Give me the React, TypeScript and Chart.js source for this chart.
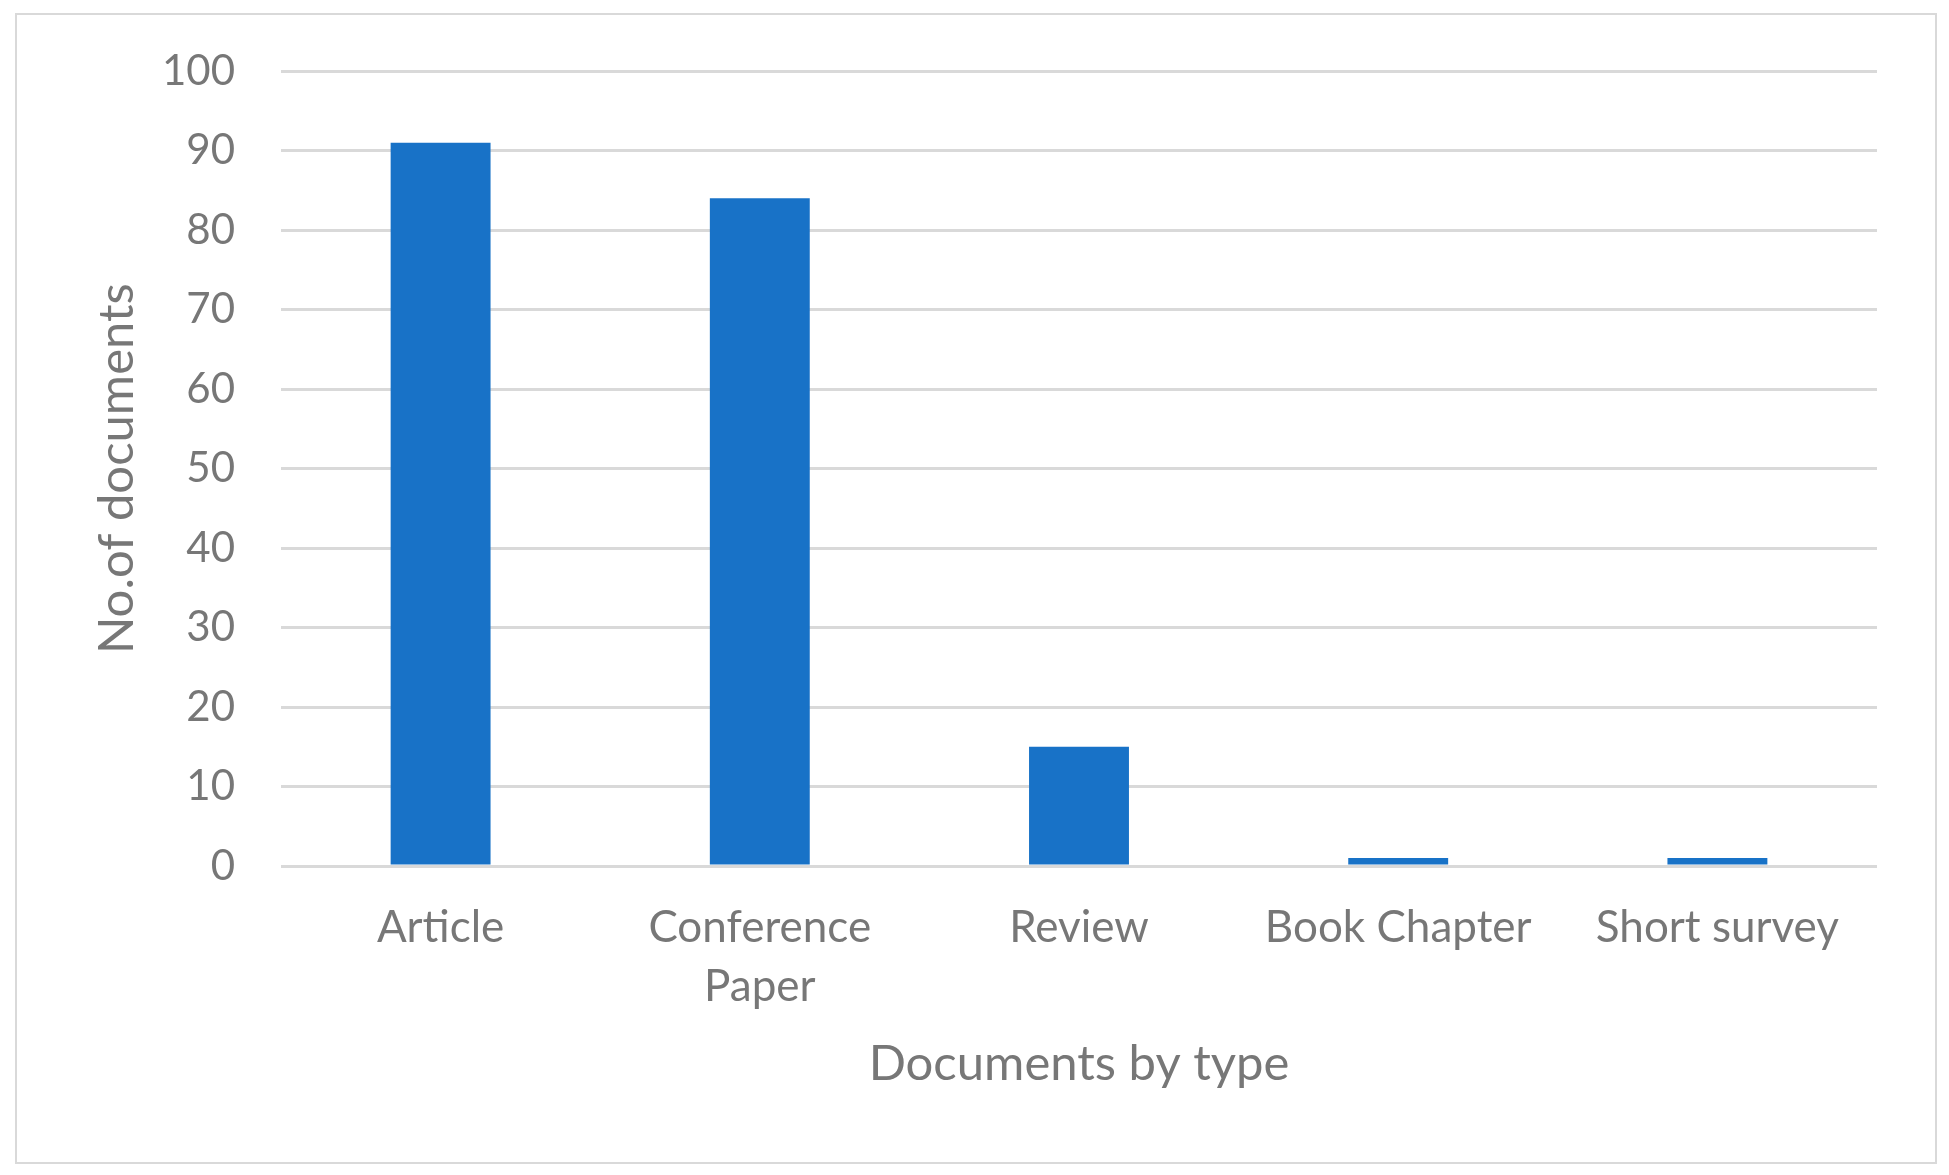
import React, { useEffect, useRef } from "react";
import { Chart, registerables } from "chart.js";

Chart.register(...registerables);

const categories: (string | string[])[] = ["Article", ["Conference", "Paper"], "Review", "Book Chapter", "Short survey"];
const documentCounts: number[] = [91, 84, 15, 1, 1];
const yTicks = { min: 0, max: 100, step: 10 };
const yTitle = "No.of documents";
const xTitle = "Documents by type";

const TEXT = "#777777";
const GRID = "#d9d9d9";
const FONT = "Lato, 'Open Sans', sans-serif";

const borderPlugin = {
  id: "outerBorder",
  beforeDraw(chart: any) {
    const ctx = chart.ctx;
    ctx.save();
    ctx.fillStyle = "#ffffff";
    ctx.fillRect(0, 0, chart.width, chart.height);
    ctx.strokeStyle = GRID;
    ctx.lineWidth = 2;
    ctx.strokeRect(16, 14, 1920, 1149);
    ctx.restore();
  },
};

export default function App() {
  const ref = useRef<HTMLCanvasElement | null>(null);
  useEffect(() => {
    if (!ref.current) return;
    const chart = new Chart(ref.current, {
      type: "bar",
      data: {
        labels: categories,
        datasets: [
          {
            data: documentCounts,
            backgroundColor: "#1872C7",
            borderWidth: 0,
            barPercentage: 0.313,
            categoryPercentage: 1,
          },
        ],
      },
      options: {
        responsive: false,
        animation: false,
        devicePixelRatio: 1,
        layout: { padding: { top: 71, right: 72, left: 0, bottom: 0 } },
        plugins: { legend: { display: false }, tooltip: { enabled: false } },
        scales: {
          x: {
            offset: true,
            grid: { display: false, drawTicks: false },
            border: { display: false },
            ticks: {
              color: TEXT,
              font: { family: FONT, size: 44, lineHeight: 1.33 },
              padding: 33,
              maxRotation: 0,
              autoSkip: false,
            },
            title: {
              display: true,
              text: xTitle,
              color: TEXT,
              font: { family: FONT, size: 49, lineHeight: 1.2 },
              padding: { top: 0, bottom: 81 },
            },
            afterFit: (s: any) => {
              s.height = 309;
            },
          },
          y: {
            min: yTicks.min,
            max: yTicks.max,
            ticks: {
              stepSize: yTicks.step,
              color: TEXT,
              font: { family: FONT, size: 42 },
              padding: 46,
            },
            grid: { color: GRID, lineWidth: 3, drawTicks: false },
            border: { display: false },
            title: {
              display: true,
              text: yTitle,
              color: TEXT,
              font: { family: FONT, size: 49, lineHeight: 1.2 },
              padding: { top: 88, bottom: 0 },
            },
            afterFit: (s: any) => {
              s.width = 281;
            },
          },
        },
      },
      plugins: [borderPlugin],
    });
    return () => chart.destroy();
  }, []);
  return (
    <div style={{ position: "absolute", left: 0, top: 0, width: 1949, height: 1175 }}>
      <canvas ref={ref} width={1949} height={1175} style={{ width: 1949, height: 1175, display: "block" }} />
    </div>
  );
}
